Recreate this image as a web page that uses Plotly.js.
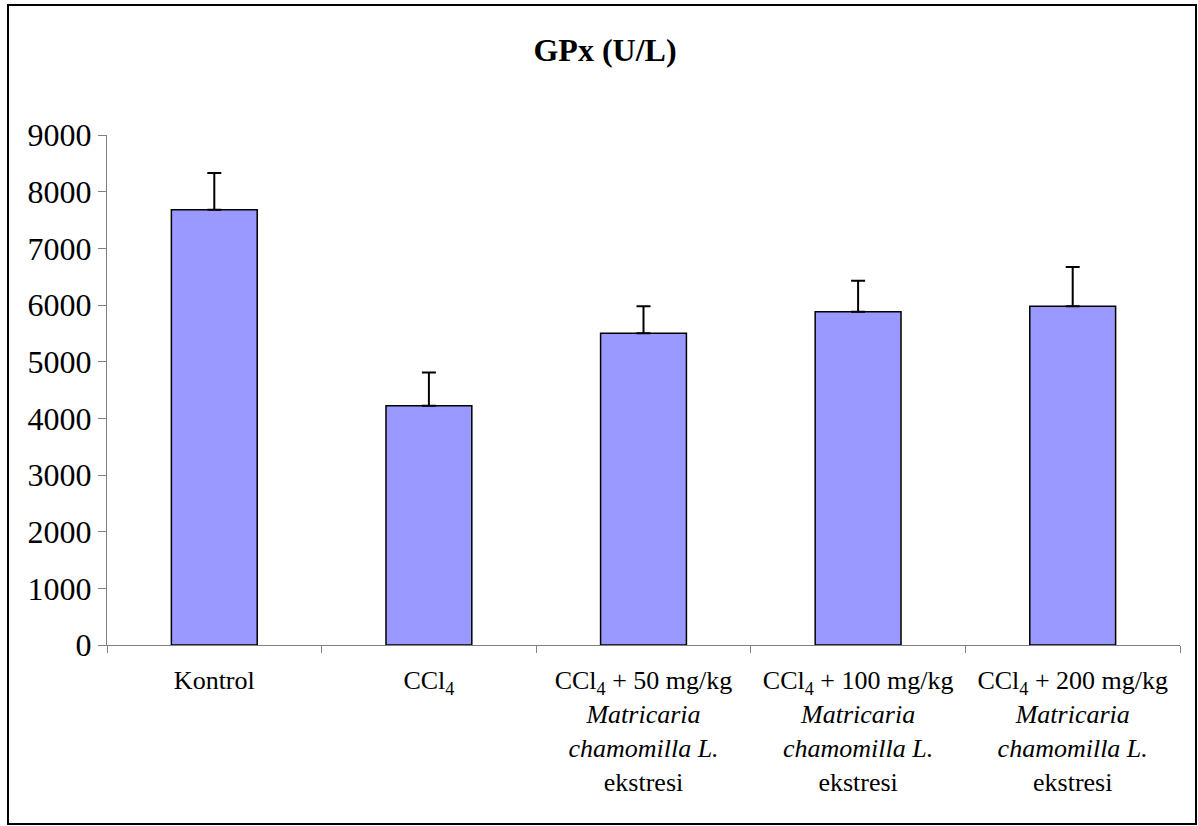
<!DOCTYPE html>
<html>
<head>
<meta charset="utf-8">
<script src="https://cdn.plot.ly/plotly-3.0.1.min.js"></script>
<style>
  html, body { margin: 0; padding: 0; background: #ffffff; }
  #chart { width: 1198px; height: 826px; position: absolute; left: 0; top: 0; }
  #frame { position: absolute; left: 7px; top: 4px; width: 1190px; height: 821px;
           box-sizing: border-box; border: 2px solid #000; pointer-events: none; }
</style>
</head>
<body>
<div id="chart"></div>
<div id="frame"></div>
<script>
// ---- data ----
const categories = ["Kontrol", "CCl4", "CCl4 + 50", "CCl4 + 100", "CCl4 + 200"];
const tickLabels = [
  "Kontrol",
  "CCl<sub>4</sub>",
  "CCl<sub>4</sub> + 50 mg/kg<br><i>Matricaria</i><br><i>chamomilla L.</i><br>ekstresi",
  "CCl<sub>4</sub> + 100 mg/kg<br><i>Matricaria</i><br><i>chamomilla L.</i><br>ekstresi",
  "CCl<sub>4</sub> + 200 mg/kg<br><i>Matricaria</i><br><i>chamomilla L.</i><br>ekstresi"
];
const gpxValues = [7680, 4220, 5500, 5880, 5980];
const gpxErrors = [650, 590, 480, 550, 690];
const yTickVals = [0, 1000, 2000, 3000, 4000, 5000, 6000, 7000, 8000, 9000];
const titleText = "<b>GPx (U/L)</b>";

const serif = "'Liberation Serif', 'Times New Roman', serif";

const trace = {
  type: "bar",
  x: categories,
  y: gpxValues,
  width: 0.4,
  marker: { color: "#9999FF", line: { color: "#000000", width: 1.5 } },
  error_y: { type: "data", array: gpxErrors, symmetric: false, arrayminus: gpxErrors.map(() => 0),
             color: "#000000", thickness: 2, width: 7 },
  hoverinfo: "x+y"
};

const layout = {
  width: 1198, height: 826,
  margin: { l: 107, r: 18, t: 135, b: 181, pad: 0 },
  paper_bgcolor: "#ffffff",
  plot_bgcolor: "#ffffff",
  showlegend: false,
  bargap: 0.6,
  title: { text: titleText, font: { family: serif, size: 32, color: "#000" },
           xref: "container", x: 0.505, xanchor: "center",
           yref: "container", y: 1 - 50 / 826, yanchor: "middle" },
  xaxis: {
    type: "category",
    tickmode: "array", tickvals: categories, ticktext: tickLabels,
    tickson: "boundaries",
    ticks: "outside", ticklen: 7, tickcolor: "#808080", tickwidth: 1,
    showline: true, linecolor: "#808080", linewidth: 1,
    showgrid: false, zeroline: false,
    tickfont: { family: serif, size: 26, color: "#000" },
    ticklabelstandoff: 12,
    tickangle: 0,
    automargin: false
  },
  yaxis: {
    range: [0, 9000],
    tickmode: "array", tickvals: yTickVals,
    ticks: "outside", ticklen: 8, tickcolor: "#808080", tickwidth: 1,
    showline: true, linecolor: "#808080", linewidth: 1,
    showgrid: false, zeroline: false,
    tickfont: { family: serif, size: 32, color: "#000" },
    automargin: false
  }
};

Plotly.newPlot("chart", [trace], layout, { displayModeBar: false, staticPlot: true });
</script>
</body>
</html>
